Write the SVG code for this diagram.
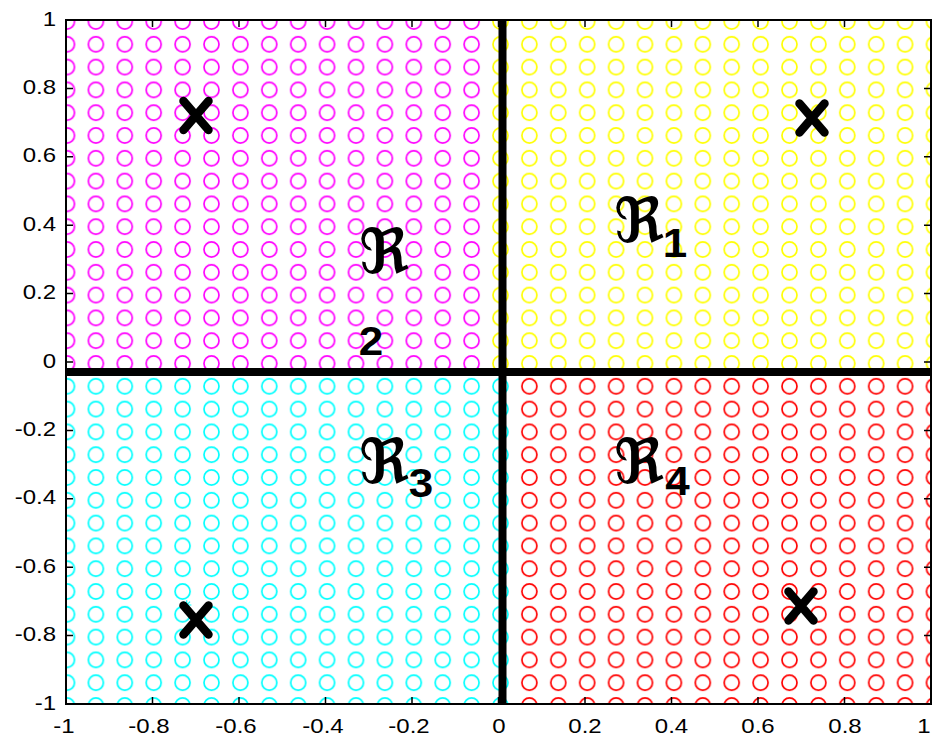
<svg xmlns="http://www.w3.org/2000/svg" width="932" height="736" viewBox="0 0 932 736">
<style>
.tk{stroke:#000;stroke-width:1.5;fill:none}
.tl{font-family:"Liberation Sans",Arial,sans-serif;font-size:20px;fill:#000;transform-box:fill-box;transform:scaleX(1.2)}
.ty{text-anchor:end;transform-origin:right center}
.tx{text-anchor:middle;transform-origin:center}
.rr{font-family:"DejaVu Serif","DejaVu Sans",serif;font-size:62px;font-weight:bold;fill:#000;text-anchor:middle}
.sub{font-family:"Liberation Sans",Arial,sans-serif;font-size:40px;font-weight:bold;fill:#000;text-anchor:middle;transform-box:fill-box;transform-origin:center;transform:scaleX(1.1)}
.cross{stroke:#000;stroke-width:8.5;stroke-linecap:round;fill:none}
.thick{stroke:#000;stroke-width:8}
</style>
<defs>
<pattern id="pm" patternUnits="userSpaceOnUse" x="52.55" y="10.1" width="28.9" height="22.8"><circle cx="14.45" cy="11.4" r="7.5" fill="none" stroke="#ff00ff" stroke-width="1.7"/></pattern>
<pattern id="py" patternUnits="userSpaceOnUse" x="52.55" y="10.1" width="28.9" height="22.8"><circle cx="14.45" cy="11.4" r="7.5" fill="none" stroke="#ffff00" stroke-width="1.7"/></pattern>
<pattern id="pc" patternUnits="userSpaceOnUse" x="52.55" y="10.1" width="28.9" height="22.8"><circle cx="14.45" cy="11.4" r="7.5" fill="none" stroke="#00ffff" stroke-width="1.7"/></pattern>
<pattern id="pr" patternUnits="userSpaceOnUse" x="52.55" y="10.1" width="28.9" height="22.8"><circle cx="14.45" cy="11.4" r="7.5" fill="none" stroke="#ff0000" stroke-width="1.7"/></pattern>
</defs>
<rect width="932" height="736" fill="#fff"/>
<g id="points">
<rect x="66" y="20" width="420.05" height="354.9" fill="url(#pm)"/>
<rect x="486.05" y="20" width="444.95" height="354.9" fill="url(#py)"/>
<rect x="66" y="374.9" width="449" height="329.1" fill="url(#pc)"/>
<rect x="515" y="374.9" width="416" height="329.1" fill="url(#pr)"/>
<path d="M186.7 600.3v9.4M182 605h9.4M183.4 601.7l6.6 6.6M183.4 608.3l6.6-6.6" stroke="#00ffff" stroke-width="1.2" fill="none"/>
</g>
<g id="dividers">
<line class="thick" x1="502.5" y1="20" x2="502.5" y2="704"/>
<line class="thick" x1="66" y1="372" x2="931" y2="372"/>
</g>
<g id="frame">
<rect x="66" y="20" width="865" height="684" fill="none" stroke="#000" stroke-width="2"/>
<path class="tk" d="M66 20h7M66 88.4h7M66 156.8h7M66 225.2h7M66 293.6h7M66 362h7M66 430.4h7M66 498.8h7M66 567.2h7M66 635.6h7M66 704h7
M931 20h-7M931 88.4h-7M931 156.8h-7M931 225.2h-7M931 293.6h-7M931 362h-7M931 430.4h-7M931 498.8h-7M931 567.2h-7M931 635.6h-7M931 704h-7
M66 704v-7M152.5 704v-7M239 704v-7M325.5 704v-7M412 704v-7M498.5 704v-7M585 704v-7M671.5 704v-7M758 704v-7M844.5 704v-7M931 704v-7
M66 20v7M152.5 20v7M239 20v7M325.5 20v7M412 20v7M498.5 20v7M585 20v7M671.5 20v7M758 20v7M844.5 20v7M931 20v7"/>
</g>
<g id="ylabels">
<text class="tl ty" x="56" y="25.6">1</text>
<text class="tl ty" x="56" y="94">0.8</text>
<text class="tl ty" x="56" y="162.4">0.6</text>
<text class="tl ty" x="56" y="230.8">0.4</text>
<text class="tl ty" x="56" y="299.2">0.2</text>
<text class="tl ty" x="56" y="367.6">0</text>
<text class="tl ty" x="56" y="436">-0.2</text>
<text class="tl ty" x="56" y="504.4">-0.4</text>
<text class="tl ty" x="56" y="572.8">-0.6</text>
<text class="tl ty" x="56" y="641.2">-0.8</text>
<text class="tl ty" x="56" y="709.6">-1</text>
</g>
<g id="xlabels">
<text class="tl tx" x="64" y="733">-1</text>
<text class="tl tx" x="149" y="733">-0.8</text>
<text class="tl tx" x="236" y="733">-0.6</text>
<text class="tl tx" x="323" y="733">-0.4</text>
<text class="tl tx" x="409" y="733">-0.2</text>
<text class="tl tx" x="499" y="733">0</text>
<text class="tl tx" x="585" y="733">0.2</text>
<text class="tl tx" x="671.5" y="733">0.4</text>
<text class="tl tx" x="758" y="733">0.6</text>
<text class="tl tx" x="845" y="733">0.8</text>
<text class="tl tx" x="924" y="733">1</text>
</g>
<g id="regions">
<g id="R1"><text class="rr" x="639" y="242">ℜ</text><text class="sub" x="675" y="257">1</text></g>
<g id="R2"><text class="rr" x="384" y="273">ℜ</text><text class="sub" x="371" y="355">2</text></g>
<g id="R3"><text class="rr" x="384" y="483">ℜ</text><text class="sub" x="421" y="497">3</text></g>
<g id="R4"><text class="rr" x="639" y="483">ℜ</text><text class="sub" x="677.5" y="495">4</text></g>
</g>
<g id="centers">
<path class="cross" d="M183.5 101l25 29M183.5 130l25-29"/>
<path class="cross" d="M799.5 103.5l25 29M799.5 132.5l25-29"/>
<path class="cross" d="M183.5 605.5l25 29M183.5 634.5l25-29"/>
<path class="cross" d="M788.5 591.5l25 29M788.5 620.5l25-29"/>
</g>
</svg>
